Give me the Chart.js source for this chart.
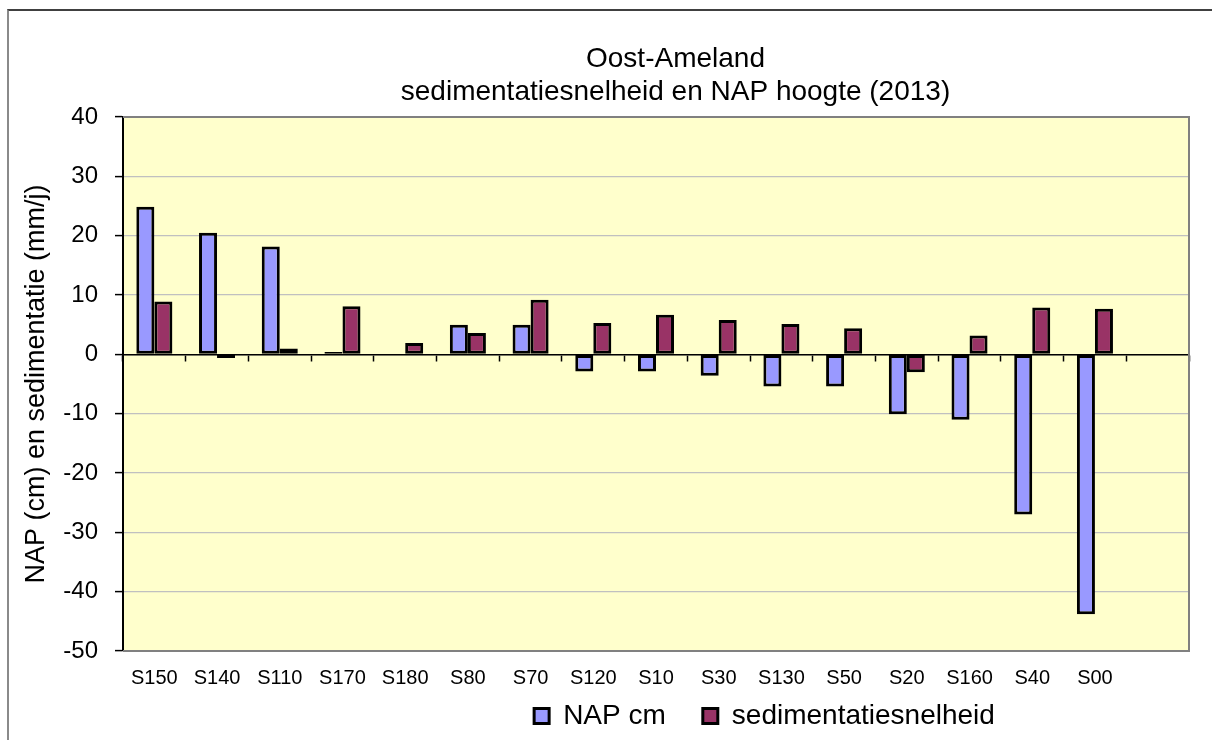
<!DOCTYPE html>
<html>
<head>
<meta charset="utf-8">
<script src="https://cdn.jsdelivr.net/npm/chart.js@4.4.1/dist/chart.umd.min.js"></script>
<style>
  html, body { margin: 0; padding: 0; background: #ffffff; overflow: hidden; }
  #wrap { position: relative; width: 1212px; height: 740px; }
  #frame { position: absolute; left: 7px; top: 9px; width: 1300px; height: 800px;
           border-top: 2px solid #404040; border-left: 2px solid #8a8a8a; }
  canvas { position: absolute; left: 0; top: 0; }
</style>
</head>
<body>
<div id="wrap">
  <div id="frame"></div>
  <canvas id="c" width="1212" height="740"></canvas>
</div>
<script>
// ---- data ----
const categories = ['S150','S140','S110','S170','S180','S80','S70','S120','S10','S30','S130','S50','S20','S160','S40','S00',''];
const napCm = [24.9, 20.5, 18.2, 0.4, 0.1, 5.0, 5.0, -2.9, -2.9, -3.6, -5.4, -5.4, -10.1, -11.0, -27.0, -43.8, null];
const sedimentatie = [8.9, -0.6, 1.0, 8.1, 1.9, 3.6, 9.2, 5.3, 6.7, 5.8, 5.1, 4.4, -3.0, 3.2, 7.9, 7.7, null];
const yMin = -50, yMax = 40, yStep = 10;
const seriesNames = ['NAP cm', 'sedimentatiesnelheid'];
const titleLines = ['Oost-Ameland', 'sedimentatiesnelheid en NAP hoogte (2013)'];
const yTitle = 'NAP (cm) en sedimentatie (mm/j)';

const FONT = "'Liberation Sans', Arial, sans-serif";

const plotBg = {
  id: 'plotBg',
  beforeDraw(chart) {
    const {ctx, chartArea: a} = chart;
    ctx.save();
    ctx.fillStyle = '#FFFFCC';
    ctx.fillRect(a.left, a.top, a.right - a.left, a.bottom - a.top);
    ctx.restore();
  },
  beforeDatasetsDraw(chart) {
    const {ctx, chartArea: a} = chart;
    ctx.save();
    ctx.strokeStyle = '#808080';
    ctx.lineWidth = 2;
    ctx.beginPath();
    ctx.moveTo(a.left, a.top);
    ctx.lineTo(a.right, a.top);
    ctx.lineTo(a.right, a.bottom);
    ctx.lineTo(a.left, a.bottom);
    ctx.stroke();
    ctx.restore();
  },
  afterLayout(chart) {
    const lg = chart.legend;
    if (lg) { lg.left += 170; lg.right += 170; lg.top = 665; lg.bottom = 740; }
    const tb = chart.titleBlock;
    if (tb) { tb.left += 81; tb.right += 81; }
  }
};

new Chart(document.getElementById('c'), {
  type: 'bar',
  data: {
    labels: categories,
    datasets: [
      { label: seriesNames[0], data: napCm, backgroundColor: '#9999FF', borderColor: '#000000',
        borderWidth: 3, borderSkipped: false, categoryPercentage: 0.575, barPercentage: 1.0 },
      { label: seriesNames[1], data: sedimentatie, backgroundColor: '#993366', borderColor: '#000000',
        borderWidth: 3, borderSkipped: false, categoryPercentage: 0.575, barPercentage: 1.0 }
    ]
  },
  options: {
    responsive: false,
    animation: false,
    devicePixelRatio: 1,
    layout: { padding: { left: 0, right: 23, top: 0, bottom: 0 } },
    plugins: {
      title: {
        display: true, text: titleLines, color: '#000000',
        font: { family: FONT, size: 28, weight: 'normal', lineHeight: 1.18 },
        padding: { top: 43, bottom: 8 }
      },
      legend: {
        display: true, position: 'bottom', align: 'center', maxHeight: 48,
        labels: { color: '#000000', font: { family: FONT, size: 28 }, boxWidth: 15, boxHeight: 15, padding: 37 }
      },
      tooltip: { enabled: false }
    },
    scales: {
      x: {
        type: 'category', offset: true,
        grid: { display: false, drawTicks: false, offset: true },
        border: { display: false },
        ticks: { color: '#000000', font: { family: FONT, size: 20 }, padding: 15, maxRotation: 0, autoSkip: false },
        afterFit(s) { s.height = 41; }
      },
      x2: {
        type: 'category', axis: 'x', offset: true, position: { y: 0 },
        grid: { display: true, drawOnChartArea: false, drawTicks: true, tickLength: 6, tickColor: '#000000', tickWidth: 1.5, offset: true },
        border: { display: true, color: '#000000', width: 1.5 },
        ticks: { display: false }
      },
      y: {
        type: 'linear', min: yMin, max: yMax,
        ticks: { stepSize: yStep, color: '#000000', font: { family: FONT, size: 24 }, padding: 17 },
        grid: { color: '#c0c0c0', lineWidth: 1.2, tickColor: '#000000', tickLength: 8, tickWidth: 1.5 },
        border: { display: true, color: '#000000', width: 2 },
        title: { display: true, text: yTitle, color: '#000000', font: { family: FONT, size: 27 }, padding: { top: 20, bottom: 0 } },
        afterFit(s) { s.width = 123; }
      }
    }
  },
  plugins: [plotBg]
});
</script>
</body>
</html>
